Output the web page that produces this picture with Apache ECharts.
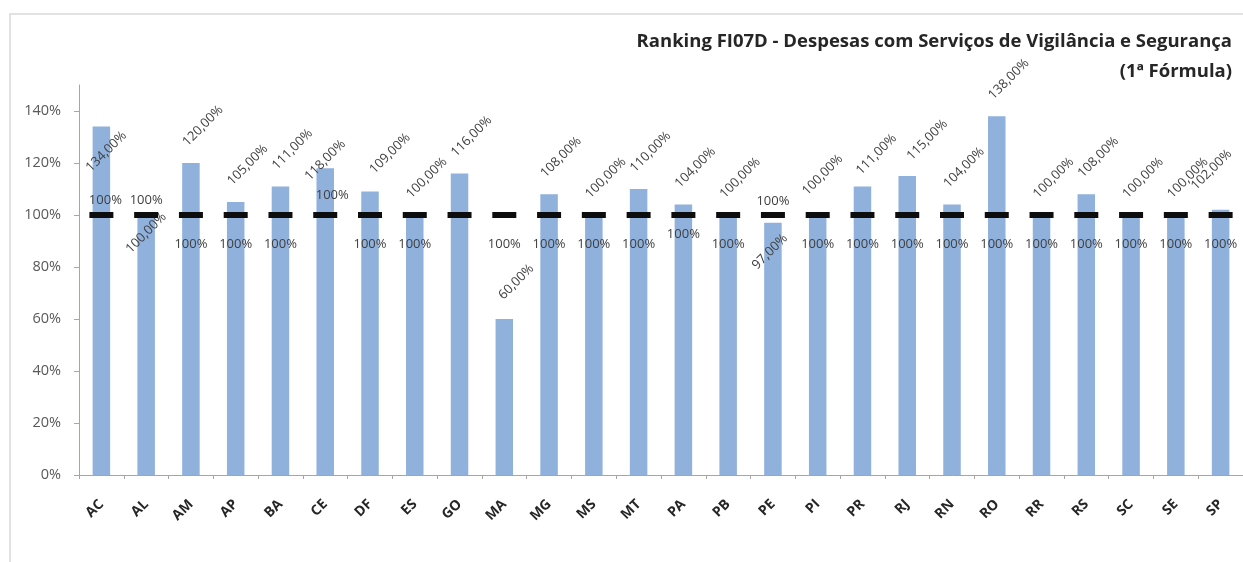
<!DOCTYPE html>
<html>
<head>
<meta charset="utf-8">
<script src="https://cdn.jsdelivr.net/npm/echarts@6/dist/echarts.min.js"></script>
<style>
  html, body { margin: 0; padding: 0; background: #ffffff; }
  #chart { width: 1243px; height: 562px; }
</style>
</head>
<body>
<div id="chart"></div>
<script>
// Unidades da federação (eixo X)
const categories = ['AC','AL','AM','AP','BA','CE','DF','ES','GO','MA','MG','MS','MT',
                    'PA','PB','PE','PI','PR','RJ','RN','RO','RR','RS','SC','SE','SP'];
// Resultado do indicador FI07D (%), 1ª fórmula
const resultado = [134,100,120,105,111,118,109,100,116,60,108,100,110,
                   104,100,97,100,111,115,104,138,100,108,100,100,102];
// Meta de referência (%)
const meta = [100,100,100,100,100,100,100,100,100,100,100,100,100,
              100,100,100,100,100,100,100,100,100,100,100,100,100];
// Marcas do eixo Y (%)
const yTicks = [0,20,40,60,80,100,120,140];

const titleLine1 = 'Ranking FI07D - Despesas com Serviços de Vigilância e Segurança';
const titleLine2 = '(1ª Fórmula)';

const BAR_WIDTH = 17.5;
// Centro do rótulo inclinado em relação ao topo (centro) da barra, em pixels
const defaultShift = [12, -37];
const labelShift = {
  AC: [5, 25], AL: [0, 18], CE: [0, -8], DF: [20, -38], RJ: [20, -36],
  PE: [-3, 29], PI: [5, -40], PR: [14, -32], SP: [-9, -40]
};
// Posição dos rótulos da meta: acima, oculto ou levemente mais alto
const metaAbove = { AC: [4, -15], AL: [0, -15], CE: [7, -20], PE: [0, -14] };
const metaHidden = { GO: true };
const metaRaised = { PA: [0, 19] };

const fmtPct = v => v.toFixed(2).replace('.', ',') + '%';

const barData = resultado.map((v, i) => {
  const s = labelShift[categories[i]] || defaultShift;
  return { value: v, label: { position: [BAR_WIDTH / 2 + s[0], s[1]] } };
});

const metaData = meta.map((v, i) => {
  const k = categories[i];
  let off = [0, 29];
  if (metaAbove[k]) off = metaAbove[k];
  if (metaRaised[k]) off = metaRaised[k];
  return { value: v, label: { show: !metaHidden[k], offset: off } };
});

const chart = echarts.init(document.getElementById('chart'), null, { renderer: 'canvas' });
chart.setOption({
  animation: false,
  backgroundColor: '#ffffff',
  textStyle: { fontFamily: 'Open Sans' },
  graphic: [{
    type: 'rect',
    shape: { x: 10, y: 14, width: 1400, height: 700 },
    style: { fill: 'none', stroke: '#d9d9d9', lineWidth: 1.5 },
    silent: true, z: -1
  }, {
    type: 'text',
    right: 11, top: 32,
    style: {
      text: titleLine1, fill: '#262626',
      font: 'bold 18.5px "Open Sans"', textAlign: 'right'
    }
  }, {
    type: 'text',
    right: 11, top: 62,
    style: {
      text: titleLine2, fill: '#262626',
      font: 'bold 18.5px "Open Sans"', textAlign: 'right'
    }
  }],
  grid: { left: 79, top: 85, width: 1168.5, height: 390 },
  xAxis: {
    type: 'category',
    data: categories,
    boundaryGap: true,
    axisLine: { lineStyle: { color: '#a6a6a6', width: 1 } },
    axisTick: { show: true, length: 4, lineStyle: { color: '#a6a6a6' } },
    axisLabel: {
      rotate: 45, interval: 0, margin: 27,
      fontFamily: 'Open Sans', fontSize: 14, fontWeight: 'bold', color: '#262626'
    }
  },
  yAxis: {
    type: 'value',
    min: 0, max: 150, interval: 20,
    splitLine: { show: false },
    axisLine: { show: true, lineStyle: { color: '#a6a6a6', width: 1 } },
    axisTick: { show: true, length: 5, lineStyle: { color: '#a6a6a6' }, customValues: yTicks },
    axisLabel: {
      customValues: yTicks, formatter: '{value}%', margin: 18,
      fontFamily: 'Open Sans', fontSize: 14.5, color: '#595959'
    }
  },
  series: [{
    name: 'Resultado',
    type: 'bar',
    data: barData,
    barWidth: BAR_WIDTH,
    itemStyle: { color: '#8fb1dc' },
    label: {
      show: true, rotate: 45,
      align: 'center', verticalAlign: 'middle',
      fontFamily: 'Open Sans', fontSize: 13, color: '#404040',
      formatter: p => fmtPct(p.value)
    },
    z: 2
  }, {
    name: 'Meta',
    type: 'scatter',
    data: metaData,
    symbol: 'rect',
    symbolSize: [24, 6],
    itemStyle: { color: '#0d0d0d', opacity: 1 },
    label: {
      show: true, position: 'inside',
      align: 'center', verticalAlign: 'middle',
      fontFamily: 'Open Sans', fontSize: 13, color: '#404040',
      formatter: p => p.value + '%'
    },
    z: 3
  }]
});
</script>
</body>
</html>
